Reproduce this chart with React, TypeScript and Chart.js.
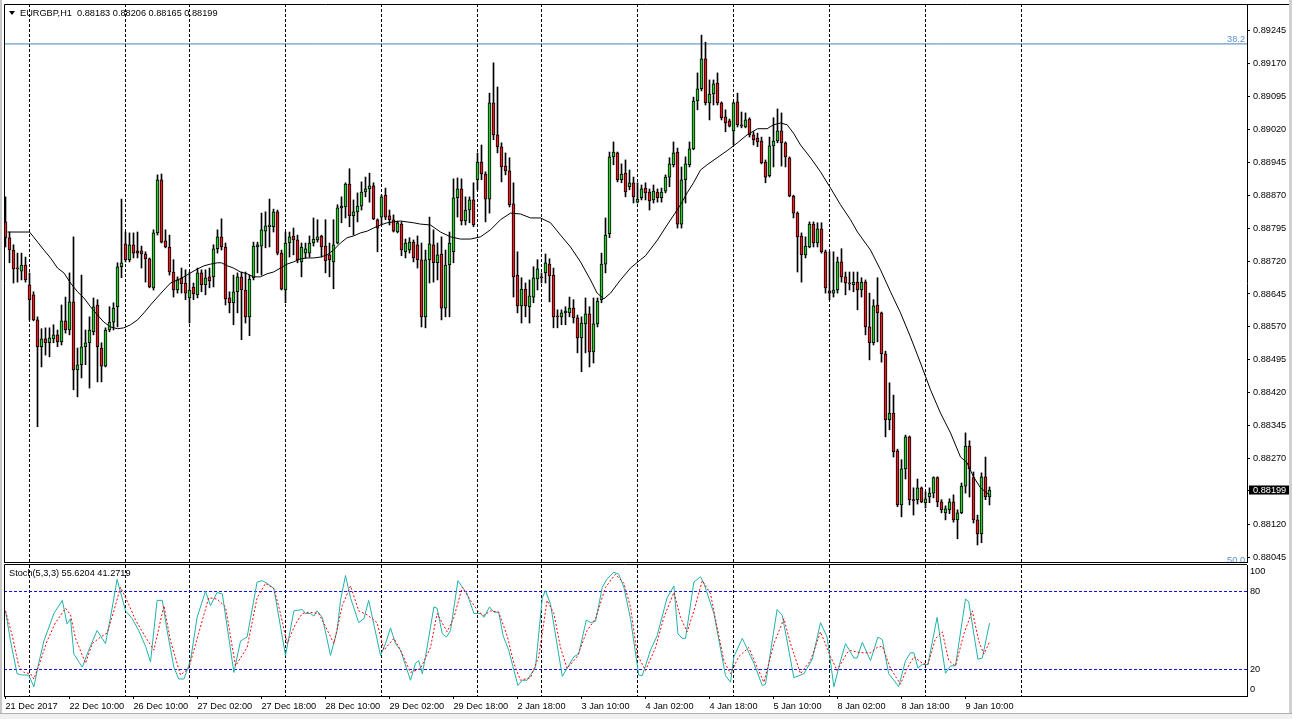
import React, { useEffect, useRef } from 'react';
import { Chart, registerables } from 'chart.js';

Chart.register(...registerables);

const FONT = "'Liberation Sans', Arial, sans-serif";
const FONT_SIZE = 9.2;

const SYMBOL_TITLE = 'EURGBP,H1  0.88183 0.88206 0.88165 0.88199';
const STOCH_TITLE = 'Stoch(5,3,3) 55.6204 41.2719';

// ---- candles (hourly bars, index 0 = 21 Dec 2017 18:00) ----
const OPEN = [
  0.88809,0.88773,0.88745,0.88704,0.88697,0.88711,0.88666,0.88643,0.88586,0.88525,
  0.88543,0.88534,0.88543,0.88552,0.88536,0.88584,0.88563,0.88627,0.88472,0.88484,
  0.88525,0.88534,0.88559,0.88620,0.88522,0.88481,0.88563,0.88581,0.88616,0.88707,
  0.88759,0.88723,0.88757,0.88743,0.88743,0.88736,0.88725,0.88659,0.88784,0.88905,
  0.88766,0.88752,0.88695,0.88654,0.88682,0.88670,0.88636,0.88661,0.88643,0.88693,
  0.88666,0.88684,0.88684,0.88748,0.88775,0.88752,0.88636,0.88625,0.88650,0.88684,
  0.88654,0.88593,0.88682,0.88752,0.88754,0.88788,0.88798,0.88798,0.88832,0.88738,
  0.88654,0.88761,0.88777,0.88768,0.88718,0.88738,0.88738,0.88761,0.88768,0.88777,
  0.88754,0.88734,0.88718,0.88761,0.88841,0.88843,0.88895,0.88823,0.88832,0.88845,
  0.88877,0.88884,0.88891,0.88814,0.88820,0.88870,0.88823,0.88814,0.88786,0.88804,
  0.88741,0.88745,0.88763,0.88757,0.88723,0.88593,0.88723,0.88757,0.88716,0.88736,
  0.88613,0.88711,0.88741,0.88864,0.88884,0.88811,0.88836,0.88859,0.88905,0.88945,
  0.88918,0.88861,0.89080,0.89007,0.88980,0.88936,0.88925,0.88850,0.88688,0.88618,
  0.88656,0.88616,0.88638,0.88679,0.88684,0.88693,0.88713,0.88688,0.88595,0.88593,
  0.88602,0.88602,0.88613,0.88591,0.88545,0.88577,0.88600,0.88513,0.88577,0.88632,
  0.88713,0.88782,0.88957,0.88966,0.88905,0.88920,0.88889,0.88898,0.88854,0.88864,
  0.88886,0.88877,0.88859,0.88877,0.88864,0.88879,0.88911,0.88939,0.88968,0.88804,
  0.88905,0.88939,0.88975,0.89084,0.89112,0.89180,0.89080,0.89100,0.89125,0.89080,
  0.89048,0.89039,0.89016,0.89082,0.89030,0.89025,0.89043,0.89007,0.89000,0.88993,
  0.88945,0.88914,0.88982,0.88993,0.89016,0.88989,0.88955,0.88868,0.88829,0.88777,
  0.88734,0.88752,0.88804,0.88761,0.88793,0.88741,0.88652,0.88647,0.88654,0.88718,
  0.88684,0.88670,0.88666,0.88672,0.88654,0.88672,0.88570,0.88534,0.88620,0.88602,
  0.88509,0.88359,0.88374,0.88288,0.88165,0.88247,0.88320,0.88177,0.88177,0.88204,
  0.88170,0.88183,0.88192,0.88227,0.88172,0.88147,0.88154,0.88172,0.88131,0.88147,
  0.88208,0.88299,0.88227,0.88131,0.88099,0.88229,0.88183,
];
const HIGH = [
  0.88866,0.88786,0.88757,0.88738,0.88738,0.88729,0.88693,0.88650,0.88593,0.88566,
  0.88568,0.88568,0.88575,0.88563,0.88620,0.88638,0.88693,0.88775,0.88522,0.88688,
  0.88563,0.88593,0.88636,0.88632,0.88534,0.88568,0.88616,0.88625,0.88716,0.88861,
  0.88786,0.88784,0.88784,0.88786,0.88754,0.88741,0.88727,0.88791,0.88916,0.88918,
  0.88791,0.88779,0.88723,0.88684,0.88704,0.88700,0.88695,0.88670,0.88704,0.88700,
  0.88700,0.88704,0.88757,0.88791,0.88816,0.88761,0.88650,0.88688,0.88693,0.88695,
  0.88695,0.88688,0.88763,0.88763,0.88829,0.88832,0.88861,0.88838,0.88836,0.88745,
  0.88786,0.88786,0.88795,0.88779,0.88761,0.88761,0.88777,0.88818,0.88814,0.88779,
  0.88814,0.88761,0.88814,0.88848,0.88866,0.88898,0.88930,0.88859,0.88875,0.88900,
  0.88911,0.88920,0.88898,0.88816,0.88870,0.88886,0.88836,0.88825,0.88811,0.88809,
  0.88770,0.88773,0.88768,0.88777,0.88761,0.88745,0.88820,0.88791,0.88761,0.88775,
  0.88745,0.88786,0.88907,0.88909,0.88907,0.88866,0.88866,0.88898,0.88966,0.88984,
  0.88923,0.89102,0.89171,0.89116,0.88989,0.88966,0.88955,0.88898,0.88741,0.88682,
  0.88670,0.88677,0.88707,0.88723,0.88693,0.88736,0.88725,0.88704,0.88609,0.88609,
  0.88616,0.88638,0.88632,0.88597,0.88593,0.88636,0.88616,0.88636,0.88636,0.88738,
  0.88818,0.88968,0.88991,0.88968,0.88941,0.88950,0.88927,0.88911,0.88898,0.88893,
  0.88898,0.88884,0.88893,0.88884,0.88886,0.88916,0.88955,0.88991,0.88977,0.88934,
  0.88957,0.88991,0.89093,0.89148,0.89234,0.89218,0.89132,0.89132,0.89148,0.89082,
  0.89064,0.89043,0.89082,0.89102,0.89059,0.89057,0.89046,0.89014,0.89011,0.89002,
  0.88950,0.89002,0.89046,0.89066,0.89057,0.88991,0.88957,0.88870,0.88832,0.88784,
  0.88775,0.88809,0.88809,0.88807,0.88807,0.88745,0.88741,0.88741,0.88729,0.88748,
  0.88695,0.88695,0.88695,0.88695,0.88682,0.88677,0.88647,0.88632,0.88682,0.88604,
  0.88515,0.88443,0.88415,0.88292,0.88268,0.88324,0.88322,0.88204,0.88224,0.88206,
  0.88195,0.88204,0.88229,0.88229,0.88177,0.88163,0.88179,0.88188,0.88154,0.88215,
  0.88329,0.88311,0.88240,0.88142,0.88238,0.88274,0.88206,
];
const LOW = [
  0.88752,0.88716,0.88670,0.88672,0.88677,0.88672,0.88586,0.88584,0.88343,0.88479,
  0.88506,0.88502,0.88534,0.88525,0.88529,0.88556,0.88552,0.88427,0.88411,0.88454,
  0.88484,0.88431,0.88552,0.88445,0.88445,0.88479,0.88559,0.88563,0.88570,0.88682,
  0.88718,0.88718,0.88727,0.88727,0.88704,0.88672,0.88659,0.88654,0.88779,0.88761,
  0.88750,0.88688,0.88638,0.88647,0.88647,0.88632,0.88579,0.88632,0.88636,0.88650,
  0.88643,0.88659,0.88661,0.88738,0.88745,0.88620,0.88602,0.88575,0.88602,0.88541,
  0.88579,0.88550,0.88677,0.88693,0.88688,0.88750,0.88752,0.88786,0.88734,0.88654,
  0.88625,0.88729,0.88734,0.88716,0.88684,0.88727,0.88729,0.88754,0.88763,0.88729,
  0.88693,0.88684,0.88657,0.88759,0.88807,0.88818,0.88798,0.88779,0.88809,0.88836,
  0.88866,0.88854,0.88814,0.88741,0.88802,0.88814,0.88802,0.88786,0.88784,0.88732,
  0.88727,0.88738,0.88718,0.88704,0.88570,0.88568,0.88670,0.88672,0.88677,0.88586,
  0.88593,0.88593,0.88716,0.88820,0.88802,0.88802,0.88807,0.88798,0.88882,0.88905,
  0.88809,0.88829,0.88996,0.88966,0.88900,0.88916,0.88843,0.88638,0.88602,0.88579,
  0.88593,0.88579,0.88625,0.88654,0.88670,0.88670,0.88627,0.88568,0.88568,0.88575,
  0.88575,0.88593,0.88579,0.88511,0.88468,0.88511,0.88479,0.88488,0.88570,0.88625,
  0.88693,0.88773,0.88939,0.88900,0.88898,0.88866,0.88882,0.88852,0.88852,0.88859,
  0.88859,0.88836,0.88852,0.88854,0.88854,0.88875,0.88889,0.88934,0.88795,0.88795,
  0.88852,0.88934,0.88973,0.89064,0.89107,0.89075,0.89041,0.89075,0.89075,0.89041,
  0.89014,0.89025,0.88984,0.89025,0.89023,0.89023,0.89002,0.88984,0.88980,0.88941,
  0.88898,0.88911,0.88934,0.88989,0.88936,0.88934,0.88866,0.88818,0.88695,0.88672,
  0.88727,0.88750,0.88752,0.88752,0.88738,0.88647,0.88632,0.88638,0.88647,0.88672,
  0.88643,0.88654,0.88650,0.88609,0.88638,0.88552,0.88495,0.88529,0.88536,0.88490,
  0.88320,0.88336,0.88274,0.88161,0.88138,0.88224,0.88165,0.88142,0.88167,0.88170,
  0.88158,0.88170,0.88181,0.88161,0.88147,0.88131,0.88145,0.88126,0.88088,0.88145,
  0.88192,0.88183,0.88124,0.88074,0.88079,0.88177,0.88165,
];
const CLOSE = [
  0.88773,0.88745,0.88702,0.88702,0.88711,0.88677,0.88632,0.88586,0.88525,0.88543,
  0.88534,0.88545,0.88552,0.88536,0.88584,0.88563,0.88627,0.88472,0.88484,0.88525,
  0.88534,0.88563,0.88616,0.88525,0.88481,0.88563,0.88581,0.88613,0.88707,0.88716,
  0.88723,0.88757,0.88738,0.88738,0.88736,0.88725,0.88661,0.88784,0.88905,0.88763,
  0.88752,0.88695,0.88654,0.88677,0.88668,0.88647,0.88654,0.88645,0.88693,0.88666,
  0.88682,0.88675,0.88748,0.88775,0.88752,0.88634,0.88625,0.88650,0.88684,0.88654,
  0.88593,0.88679,0.88754,0.88757,0.88791,0.88800,0.88802,0.88832,0.88738,0.88656,
  0.88761,0.88775,0.88768,0.88723,0.88752,0.88748,0.88761,0.88770,0.88775,0.88752,
  0.88720,0.88723,0.88757,0.88841,0.88845,0.88895,0.88823,0.88832,0.88845,0.88877,
  0.88884,0.88891,0.88816,0.88795,0.88866,0.88820,0.88814,0.88788,0.88807,0.88745,
  0.88761,0.88763,0.88727,0.88723,0.88593,0.88723,0.88759,0.88716,0.88734,0.88613,
  0.88711,0.88761,0.88864,0.88884,0.88811,0.88836,0.88859,0.88802,0.88945,0.88918,
  0.88861,0.89080,0.89007,0.88980,0.88934,0.88925,0.88848,0.88684,0.88618,0.88656,
  0.88618,0.88641,0.88682,0.88702,0.88682,0.88716,0.88686,0.88593,0.88593,0.88602,
  0.88606,0.88613,0.88591,0.88545,0.88579,0.88600,0.88513,0.88577,0.88629,0.88713,
  0.88779,0.88957,0.88968,0.88905,0.88918,0.88877,0.88898,0.88866,0.88861,0.88884,
  0.88875,0.88857,0.88879,0.88864,0.88877,0.88911,0.88941,0.88966,0.88804,0.88905,
  0.88941,0.88975,0.89084,0.89112,0.89180,0.89080,0.89100,0.89123,0.89080,0.89046,
  0.89034,0.89027,0.89080,0.89030,0.89027,0.89041,0.89007,0.88996,0.88991,0.88943,
  0.88911,0.88982,0.88993,0.89016,0.88989,0.88957,0.88868,0.88829,0.88775,0.88734,
  0.88754,0.88804,0.88761,0.88793,0.88741,0.88659,0.88647,0.88654,0.88718,0.88684,
  0.88670,0.88668,0.88672,0.88654,0.88672,0.88570,0.88534,0.88618,0.88602,0.88509,
  0.88359,0.88374,0.88286,0.88165,0.88247,0.88320,0.88177,0.88174,0.88204,0.88172,
  0.88179,0.88192,0.88227,0.88172,0.88154,0.88156,0.88172,0.88131,0.88147,0.88208,
  0.88299,0.88247,0.88131,0.88099,0.88229,0.88183,0.88199,
];

// ---- moving average (read at sampled bars) ----
const MA_IDX = [
  0.5,6,7,9.6,11.25,13,14.6,16.25,18,19.6,21.25,23,24.6,26.25,28,29.6,31.25,33,34.6,36.25,
  38,39.6,41.25,43,44.6,46.25,48,49.6,51.25,53,54,55.5,57,58.75,60.4,62,63.75,65.4,67,68.75,
  70.4,72,73.75,75.4,77,78.75,80.4,82,83.75,85.4,87,88.75,90.4,92,93.75,95.4,97,98.75,100.4,102,
  103.75,106.25,108.75,111.25,113.75,116.25,118.75,121.25,123.75,126.25,128.75,131.25,133.75,136.25,138.75,141.25,143.75,146.25,147.9,149.6,
  151.25,153.75,156.25,158.75,160,163,165.4,167.1,168.75,170.4,172,173.75,175.4,177.9,180.4,183,185.4,188,190.4,192,
  193.75,195.4,197,198.75,201.25,203.75,206.25,208.75,211.25,213,216.25,218.75,221.25,223.75,226.25,228.75,231.25,233.75,236.25,238.75,
  240.4,242,243.75,245.4,246,
];
const MA_VAL = [
  0.88786,0.88786,0.88775,0.88745,0.88727,0.88704,0.88693,0.88670,0.88650,0.88636,0.88616,0.88597,0.88581,0.88570,0.88566,0.88568,0.88575,0.88586,0.88602,0.88620,
  0.88638,0.88654,0.88670,0.88677,0.88684,0.88693,0.88702,0.88709,0.88713,0.88716,0.88716,0.88709,0.88704,0.88695,0.88691,0.88684,0.88684,0.88691,0.88695,0.88704,
  0.88713,0.88718,0.88725,0.88727,0.88727,0.88729,0.88734,0.88745,0.88761,0.88773,0.88777,0.88784,0.88788,0.88795,0.88802,0.88807,0.88809,0.88811,0.88809,0.88807,
  0.88804,0.88802,0.88786,0.88775,0.88770,0.88770,0.88775,0.88791,0.88814,0.88829,0.88827,0.88818,0.88818,0.88807,0.88779,0.88752,0.88718,0.88677,0.88647,0.88634,
  0.88647,0.88677,0.88704,0.88723,0.88732,0.88768,0.88802,0.88825,0.88848,0.88875,0.88898,0.88927,0.88939,0.88955,0.88971,0.88989,0.89007,0.89021,0.89021,0.89030,
  0.89034,0.89030,0.89011,0.88984,0.88955,0.88923,0.88886,0.88848,0.88814,0.88786,0.88745,0.88700,0.88650,0.88602,0.88547,0.88488,0.88427,0.88374,0.88329,0.88274,
  0.88261,0.88229,0.88204,0.88192,0.88188,
];

// ---- Stochastic(5,3,3) main (%K) and signal (%D), read at turning points ----
const K_IDX = [
  0,1.25,2.9,4.2,5.8,7.1,8.3,9.6,10.8,12.1,14.2,15.4,16.25,17.1,19.2,20.8,22.9,25,26.25,27.9,
  30,31.7,33.3,35,36.25,37.9,39.2,40.4,42.1,43.3,44.6,46.25,47.9,50,51.25,52.9,54.2,57.1,58.75,60.4,
  62.9,64.2,65.4,67.1,70,72.1,74.2,75,76.25,77.1,77.9,79.2,81.25,82.9,83.75,85,86.25,88.3,89.6,90.8,
  93.75,95,96.25,97.5,98.75,101.25,102.5,103.3,104.2,105,107.1,107.9,109.2,110.25,111.25,113.1,115.4,117.1,118.75,119.6,
  121,122.1,123.3,124.4,125.8,128.1,129.2,130.4,132.5,134.2,135,136.25,139.2,142.1,143.3,145.2,146.25,147.5,149.2,150.4,
  152.1,153.3,154.6,156.25,158.3,159.2,161.25,162.9,165.4,167.1,168.1,169.2,170,172.1,173.75,174.6,177.1,180,181.25,182.1,
  184.2,187.1,189.2,190,192.9,194.2,197.1,199.6,201.7,203.75,205.4,207.1,208.5,210,212.1,212.9,214.2,216.25,218.1,219.2,
  220.8,222.1,223.3,225,226.25,227.1,228.1,229.2,230.6,232.9,235,236.25,237.5,240,240.8,243.1,244.2,246,
];
const K_VAL = [
  65,42,17,16,16,7,25,42,52,63,73,55,59,32,22,35,50,40,60,89,
  65,59,50,38,26,73,73,50,22,13,13,27,60,80,69,79,78,18,42,45,
  87,88,86,82,31,65,66,63,63,61,65,60,31,50,73,92,75,56,59,73,
  31,40,52,40,35,12,25,27,17,30,68,67,47.5,45,50,88,78,63,63,60,
  68,64,64,46,35,8,12,12,22,75,80.5,70,15,30,32,58,56,57,83,89.5,
  94.5,93,83,59,16,15.6,35,46,75,84,47.5,44,44,87,91,86,63,15.6,10.5,30,
  44,25,8,9,66,61.5,14,17,28,56,45,7,24,40,29,29,41,27,45,43,
  17,12,7,27,33,33,21.5,24,24,60,17.4,23,23,74,72,28,29,55.62,
];
const D_IDX = [
  0,1.7,3.3,4.6,6.25,7.1,8.75,10.4,12.5,15,16.25,17.5,20,21.7,23.75,25.4,27.1,28.75,30.8,32.5,
  35,37.1,39.6,41.25,43.75,45.8,48.3,50.8,52.9,55,57.5,60.4,62.9,65,67.1,68.75,70.4,72.5,74.2,75.8,
  78.3,80,82.1,84.2,86.25,88.3,90.4,92.9,94.6,97.1,98.75,101.25,103.75,106.25,107.9,110.4,112.1,114.2,116.25,118.3,
  119.6,121.25,123.3,125.4,127.1,128.75,131.25,133.3,135.4,137.1,138.75,140.4,142.9,145.4,147.5,150,152.5,154.6,156.25,157.9,
  160,162.5,164.6,167.1,168.75,170.4,172.1,174.2,176.25,177.9,179.6,181.25,183.3,185.8,187.9,189.6,192.1,194.6,196.25,198.75,
  201.25,203.75,206.25,207.9,210.4,211.25,213.75,216.25,217.9,219.2,221.25,223.75,225.4,227.1,229.2,230.6,232.5,234.2,235.8,237.5,
  239.6,241.7,243.3,244.6,246,
];
const D_VAL = [
  65,46,23,18,17,13,27,42,56,67,62,44,25,40,45,48,65,83,70,58,
  45,35,69,42,16,21,48,75,74,68,23,37,75,86,82,63,40,55,63,64,
  63,53,40,69,84,65,62,56,35,44,35,18,21,37,63,49,60,83,73,64,
  61.5,65,64,46,25,12,14,30,73,63,37,21,30,50,59,83,93,86,68,32,
  19.5,37,60,79,60,49,65,88,78,52.5,27,17,30,37,22,10.5,40,59,40,17,
  27,49,30,19.5,33,34.7,33,33,37,38,21,9,21,30,25,24,44,49,27,23,
  47.5,65,42,32,41.27,
];

// ---- axes / annotations ----
const TIME_TICK_IDX = [0,16,32,48,64,80,96,112,128,144,160,176,192,208,224,240];
const TIME_TICK_LABELS = [
  '21 Dec 2017','22 Dec 10:00','26 Dec 10:00','27 Dec 02:00','27 Dec 18:00','28 Dec 10:00',
  '29 Dec 02:00','29 Dec 18:00','2 Jan 18:00','3 Jan 10:00','4 Jan 02:00','4 Jan 18:00',
  '5 Jan 10:00','8 Jan 02:00','8 Jan 18:00','9 Jan 10:00',
];
const DAY_SEP_IDX = [6,30,46,70,94,118,134,158,182,206,230,254];
const PRICE_TICKS = [
  0.88045,0.88120,0.88270,0.88345,0.88420,0.88495,0.88570,0.88645,
  0.88720,0.88795,0.88870,0.88945,0.89020,0.89095,0.89170,0.89245,
];
const CURRENT_PRICE = 0.88199;
const FIB_LEVELS = [0.89214, 0.88028];
const FIB_LABELS = ['38.2', '50.0'];
const STOCH_LEVELS = [20, 80];
const STOCH_AXIS_VALUES = [100, 80, 20, 0];

// ---- layout constants ----
const X_MIN = -0.375;
const X_MAX = 310.375;
const PRICE_MIN = 0.880352;
const PRICE_MAX = 0.893048;
const BULL = '#2fcc2f';
const BEAR = '#e52020';
const FIB_COLOR = '#4682b4';
const FIB_TEXT = '#5b8fd0';
const LEVEL_COLOR = '#1010ff';

const tickFont = { family: FONT, size: FONT_SIZE };

const fitY = (w: number) => (s: any) => {
  s.width = w;
  s.paddingTop = 0;
  s.paddingBottom = 0;
};
const fitX = (h: number) => (s: any) => {
  s.height = h;
  s.paddingLeft = 0;
  s.paddingRight = 0;
};

const framePlugin = (rightExtend: boolean) => ({
  id: 'frame',
  afterDraw(chart: any) {
    const { ctx, chartArea: a, width } = chart;
    ctx.save();
    ctx.strokeStyle = '#000';
    ctx.lineWidth = 1;
    ctx.beginPath();
    const topY = rightExtend ? a.top + 0.5 : a.top - 0.5;
    ctx.moveTo(a.left + 0.5, a.bottom);
    ctx.lineTo(a.left + 0.5, topY);
    ctx.lineTo(rightExtend ? width - 3 : a.right, topY);
    ctx.stroke();
    ctx.restore();
  },
});

const fibLabelPlugin = {
  id: 'fibLabels',
  afterDatasetsDraw(chart: any) {
    const { ctx, chartArea: a, scales } = chart;
    ctx.save();
    ctx.beginPath();
    ctx.rect(a.left, a.top, a.right - a.left, a.bottom - a.top);
    ctx.clip();
    ctx.font = `${FONT_SIZE}px ${FONT}`;
    ctx.fillStyle = FIB_TEXT;
    ctx.textAlign = 'right';
    ctx.textBaseline = 'alphabetic';
    FIB_LEVELS.forEach((lv, i) => {
      const y = scales.y.getPixelForValue(lv);
      ctx.fillText(FIB_LABELS[i], a.right - 2, y - 2);
    });
    ctx.restore();
  },
};

const stochLabelPos = (v: number) => (v >= 100 ? v - 4.6 : v <= 0 ? v + 5.3 : v);

export default function App() {
  const mainRef = useRef<HTMLCanvasElement>(null);
  const stochRef = useRef<HTMLCanvasElement>(null);

  useEffect(() => {
    Chart.defaults.font.family = FONT;
    const idx = OPEN.map((_, i) => i);

    const main = new Chart(mainRef.current as HTMLCanvasElement, {
      type: 'bar',
      data: {
        datasets: [
          {
            type: 'line',
            label: 'MA',
            data: MA_IDX.map((x, i) => ({ x, y: MA_VAL[i] })),
            borderColor: '#000',
            borderWidth: 1,
            pointRadius: 0,
            tension: 0,
            order: 0,
          } as any,
          ...FIB_LEVELS.map((lv) => ({
            type: 'line',
            label: 'fib',
            data: [{ x: X_MIN, y: lv }, { x: X_MAX, y: lv }],
            borderColor: FIB_COLOR,
            borderWidth: 1,
            pointRadius: 0,
            order: 3,
          } as any)),
          {
            type: 'bar',
            label: 'body',
            data: idx.map((i) => ({ x: i, y: [OPEN[i], CLOSE[i]] })),
            backgroundColor: idx.map((i) => (CLOSE[i] > OPEN[i] ? BULL : BEAR)),
            borderColor: '#000',
            borderWidth: 1,
            borderSkipped: false,
            grouped: false,
            barPercentage: 1,
            categoryPercentage: 1,
            maxBarThickness: 3,
            minBarLength: 1,
            order: 1,
          } as any,
          {
            type: 'bar',
            label: 'wick',
            data: idx.map((i) => ({ x: i, y: [LOW[i], HIGH[i]] })),
            backgroundColor: '#000',
            borderWidth: 0,
            grouped: false,
            barPercentage: 1,
            categoryPercentage: 1,
            maxBarThickness: 1,
            order: 2,
          } as any,
        ],
      },
      options: {
        responsive: false,
        animation: false,
        devicePixelRatio: 1,
        events: [],
        layout: { padding: { left: 4, top: 4, right: 0, bottom: 1 } },
        plugins: { legend: { display: false }, tooltip: { enabled: false } },
        scales: {
          x: {
            type: 'linear',
            min: X_MIN,
            max: X_MAX,
            offset: false,
            afterBuildTicks: (s: any) => { s.ticks = DAY_SEP_IDX.map((v) => ({ value: v })); },
            ticks: { display: false, autoSkip: false },
            grid: { display: true, drawOnChartArea: true, drawTicks: false, color: '#000', lineWidth: 1, offset: false },
            border: { display: true, color: '#000', width: 1, dash: [3, 2] },
            afterFit: fitX(0),
          },
          y: {
            type: 'linear',
            position: 'right',
            min: PRICE_MIN,
            max: PRICE_MAX,
            afterBuildTicks: (s: any) => {
              s.ticks = [...PRICE_TICKS, CURRENT_PRICE].map((v) => ({ value: v }));
            },
            ticks: {
              autoSkip: false,
              font: tickFont,
              padding: 3,
              color: (c: any) => (c.tick && c.tick.value === CURRENT_PRICE ? '#fff' : '#000'),
              showLabelBackdrop: (c: any) => !!(c.tick && c.tick.value === CURRENT_PRICE),
              backdropColor: '#000',
              backdropPadding: { top: -1, bottom: -1, left: 4, right: 4 },
              callback: (v: any) => Number(v).toFixed(5),
            },
            grid: { display: true, drawOnChartArea: false, drawTicks: true, tickLength: 3, color: '#000' },
            border: { display: true, color: '#000', width: 1 },
            afterFit: fitY(45),
          },
        },
      } as any,
      plugins: [framePlugin(true), fibLabelPlugin],
    });

    const stoch = new Chart(stochRef.current as HTMLCanvasElement, {
      type: 'line',
      data: {
        datasets: [
          {
            label: 'K',
            data: K_IDX.map((x, i) => ({ x, y: K_VAL[i] })),
            borderColor: '#20b2aa',
            borderWidth: 1,
            pointRadius: 0,
            tension: 0,
            order: 1,
          },
          {
            label: 'D',
            data: D_IDX.map((x, i) => ({ x, y: D_VAL[i] })),
            borderColor: '#ff0000',
            borderWidth: 1,
            borderDash: [2, 2],
            pointRadius: 0,
            tension: 0,
            order: 0,
          },
        ],
      },
      options: {
        responsive: false,
        animation: false,
        devicePixelRatio: 1,
        events: [],
        layout: { padding: { left: 4, top: 2, right: 0, bottom: 0 } },
        plugins: { legend: { display: false }, tooltip: { enabled: false } },
        scales: {
          x: {
            type: 'linear',
            position: 'bottom',
            min: X_MIN,
            max: X_MAX,
            offset: false,
            afterBuildTicks: (s: any) => { s.ticks = TIME_TICK_IDX.map((v) => ({ value: v })); },
            ticks: {
              autoSkip: false,
              maxRotation: 0,
              minRotation: 0,
              align: 'start',
              padding: 2,
              font: tickFont,
              color: '#000',
              callback: (v: any, i: number) => TIME_TICK_LABELS[i] ?? '',
            },
            grid: { display: true, drawOnChartArea: false, drawTicks: true, tickLength: 3, color: '#000', offset: false },
            border: { display: true, color: '#000', width: 1 },
            afterFit: fitX(20),
          },
          xg: {
            type: 'linear',
            position: 'bottom',
            min: X_MIN,
            max: X_MAX,
            offset: false,
            afterBuildTicks: (s: any) => { s.ticks = DAY_SEP_IDX.map((v) => ({ value: v })); },
            ticks: { display: false, autoSkip: false },
            grid: { display: true, drawOnChartArea: true, drawTicks: false, color: '#000', offset: false },
            border: { display: false, dash: [3, 2] },
            afterFit: fitX(0),
          },
          y: {
            type: 'linear',
            position: 'right',
            min: 0,
            max: 100,
            afterBuildTicks: (s: any) => {
              s.ticks = STOCH_AXIS_VALUES.map((v) => ({ value: stochLabelPos(v) }));
            },
            ticks: {
              autoSkip: false,
              font: tickFont,
              color: '#000',
              padding: 3,
              callback: (v: any, i: number) => String(STOCH_AXIS_VALUES[i]),
            },
            grid: { display: true, drawOnChartArea: false, drawTicks: false, color: '#000' },
            border: { display: true, color: '#000', width: 1 },
            afterFit: fitY(45),
          },
          yl: {
            type: 'linear',
            position: 'left',
            min: 0,
            max: 100,
            afterBuildTicks: (s: any) => { s.ticks = STOCH_LEVELS.map((v) => ({ value: v })); },
            ticks: { display: false, autoSkip: false },
            grid: { display: true, drawOnChartArea: true, drawTicks: false, color: LEVEL_COLOR, lineWidth: 1 },
            border: { display: false, dash: [3, 2] },
            afterFit: fitY(0),
          },
        },
      } as any,
      plugins: [framePlugin(false)],
    });

    return () => {
      main.destroy();
      stoch.destroy();
    };
  }, []);

  const textStyle: React.CSSProperties = {
    position: 'absolute',
    fontFamily: FONT,
    fontSize: FONT_SIZE,
    lineHeight: '10px',
    color: '#000',
    whiteSpace: 'pre',
  };

  return (
    <div style={{ position: 'fixed', left: 0, top: 0, width: 1292, height: 719, background: '#fff', overflow: 'hidden' }}>
      <canvas ref={mainRef} width={1292} height={563} style={{ position: 'absolute', left: 0, top: 0, width: 1292, height: 563 }} />
      <canvas ref={stochRef} width={1292} height={153} style={{ position: 'absolute', left: 0, top: 563, width: 1292, height: 153 }} />
      <div style={{ position: 'absolute', left: 9, top: 11, width: 0, height: 0, borderLeft: '3px solid transparent', borderRight: '3px solid transparent', borderTop: '4px solid #000' }} />
      <div style={{ ...textStyle, left: 20, top: 8 }}>{SYMBOL_TITLE}</div>
      <div style={{ ...textStyle, left: 9, top: 568 }}>{STOCH_TITLE}</div>
      <div style={{ position: 'absolute', left: 0, top: 0, width: 2, height: 719, background: '#c8c8c8' }} />
      <div style={{ position: 'absolute', left: 1289, top: 0, width: 3, height: 719, background: '#d0d0d0' }} />
      <div style={{ position: 'absolute', left: 0, top: 713, width: 1292, height: 6, background: '#f0f0f0', borderTop: '1px solid #b0b0b0' }} />
    </div>
  );
}
